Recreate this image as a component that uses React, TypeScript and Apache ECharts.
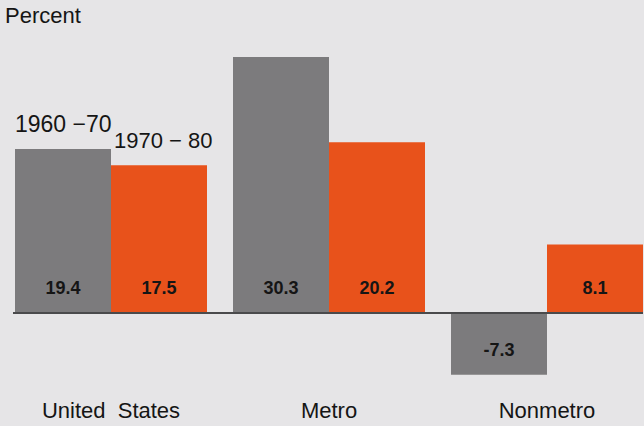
import React, { useEffect, useRef } from "react";
import * as echarts from "echarts";

const categories = ["United  States", "Metro", "Nonmetro"];
const period1Values = [19.4, 30.3, -7.3];
const period2Values = [17.5, 20.2, 8.1];
const periodNames = ["1960 \u221270", "1970 \u2212 80"];
const yTitle = "Percent";

const FONT = "Liberation Sans, Arial, Helvetica, sans-serif";
const BG = "#e6e5e7";
const GRAY = "#7c7b7d";
const ORANGE = "#e8521b";
const TEXT = "#151515";

export default function App() {
  const ref = useRef<HTMLDivElement>(null);
  useEffect(() => {
    if (!ref.current) return;
    const chart = echarts.init(ref.current, undefined, { renderer: "svg" });
    const valueLabel = {
      show: true,
      position: "insideBottom",
      distance: 16,
      fontFamily: FONT,
      fontSize: 18,
      fontWeight: "bold",
      color: TEXT,
      formatter: (p: any) => String(p.value),
    };
    chart.setOption({
      animation: false,
      backgroundColor: BG,
      grid: {
        left: 2,
        width: 654,
        top: 17.3,
        height: 380.2,
        containLabel: false,
        outerBoundsMode: "none",
      },
      xAxis: {
        type: "category",
        data: categories,
        axisLine: { show: false, onZero: false },
        axisTick: { show: false },
        axisLabel: {
          margin: 2,
          fontFamily: FONT,
          fontSize: 22,
          color: TEXT,
          interval: 0,
        },
      },
      yAxis: {
        type: "value",
        min: -10,
        max: 35,
        interval: 5,
        show: false,
        splitLine: { show: false },
      },
      series: [
        {
          type: "bar",
          name: periodNames[0],
          data: period1Values.map((v) =>
            v < 0
              ? { value: v, label: { position: "inside", offset: [0, 6] } }
              : v
          ),
          barWidth: 96,
          barGap: "0%",
          itemStyle: { color: GRAY },
          label: valueLabel,
        },
        {
          type: "bar",
          name: periodNames[1],
          data: period2Values,
          barWidth: 96,
          barGap: "0%",
          itemStyle: { color: ORANGE },
          label: valueLabel,
        },
      ],
    });
    const y0 = chart.convertToPixel({ yAxisIndex: 0 }, 0) as number;
    const usTop1 = chart.convertToPixel({ yAxisIndex: 0 }, period1Values[0]) as number;
    const usTop2 = chart.convertToPixel({ yAxisIndex: 0 }, period2Values[0]) as number;
    chart.setOption({
      graphic: [
        {
          type: "line",
          shape: { x1: 13, y1: y0, x2: 643, y2: y0 },
          style: { stroke: "#4a4a4c", lineWidth: 2 },
          z: 10,
        },
        {
          type: "text",
          left: 5,
          top: 4,
          style: { text: yTitle, fontFamily: FONT, fontSize: 22, fill: TEXT },
        },
        {
          type: "text",
          x: 15,
          y: usTop1 - 14,
          style: {
            text: periodNames[0],
            fontFamily: FONT,
            fontSize: 23,
            fill: TEXT,
            textVerticalAlign: "bottom",
          },
        },
        {
          type: "text",
          x: 114,
          y: usTop2 - 14,
          style: {
            text: periodNames[1],
            fontFamily: FONT,
            fontSize: 22,
            fill: TEXT,
            textVerticalAlign: "bottom",
          },
        },
      ],
    });
    return () => chart.dispose();
  }, []);
  return (
    <div
      ref={ref}
      style={{ position: "fixed", left: 0, top: 0, width: 644, height: 426 }}
    />
  );
}
